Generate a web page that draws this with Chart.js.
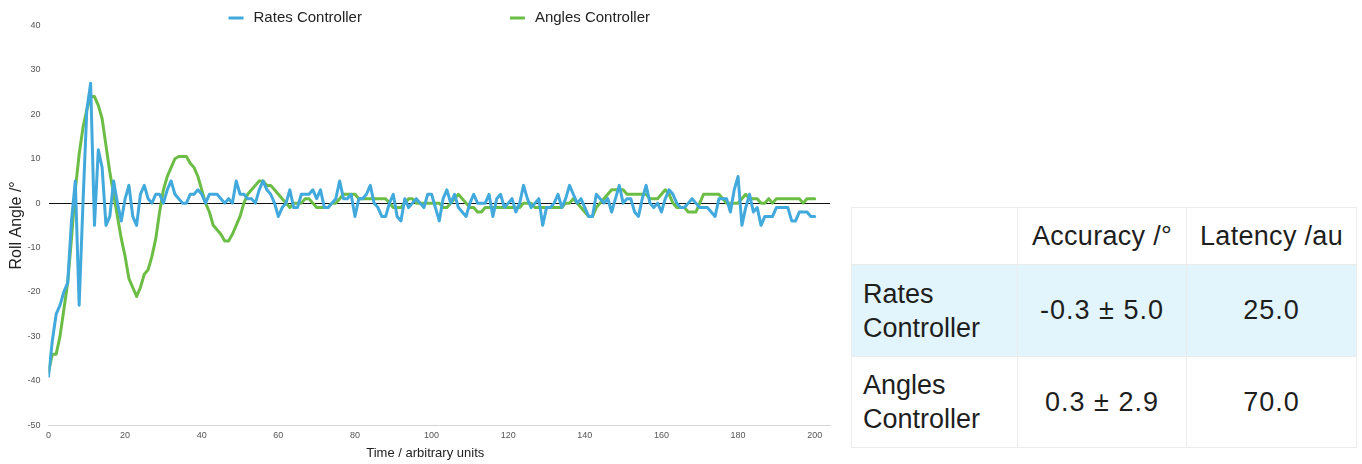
<!DOCTYPE html>
<html>
<head>
<meta charset="utf-8">
<script src="https://cdn.jsdelivr.net/npm/chart.js@4.4.1/dist/chart.umd.min.js"></script>
<style>
  html, body { margin: 0; padding: 0; background: #fff; width: 1362px; height: 464px; overflow: hidden; }
  body { font-family: "Liberation Sans", Arial, Helvetica, sans-serif; }
  #chartBox { position: absolute; left: 0; top: 0; width: 845px; height: 464px; }
  #summary {
    position: absolute; left: 851px; top: 207px;
    border-collapse: collapse; table-layout: fixed;
    font-size: 27px; color: #1e1e1e;
  }
  #summary td { border: 1px solid #ececec; padding: 0; vertical-align: middle; }
  #summary tr.head td { height: 56px; text-align: center; letter-spacing: 0.3px; }
  #summary tr.rates td { height: 91px; background: #e2f5fc; }
  #summary tr.angles td { height: 90px; }
  #summary td.name { text-align: left; padding-left: 11px; line-height: 34px; }
  #summary td.num { text-align: center; letter-spacing: 1px; }
</style>
</head>
<body>
<div id="chartBox"><canvas id="roll"></canvas></div>

<table id="summary">
  <colgroup><col style="width:166px"><col style="width:169px"><col style="width:170px"></colgroup>
  <tr class="head"><td></td><td>Accuracy /°</td><td>Latency /au</td></tr>
  <tr class="rates"><td class="name">Rates<br>Controller</td><td class="num">-0.3 ± 5.0</td><td class="num">25.0</td></tr>
  <tr class="angles"><td class="name">Angles<br>Controller</td><td class="num">0.3 ± 2.9</td><td class="num">70.0</td></tr>
</table>

<script>
// Roll angle per sample, one value per time step 0..200
const ratesController = [
  -39,-31,-25,-23,-20,-18,-4,5,-23,0,
  21,27,-5,12,8,-5,-3,5,0,-4,
  1,4,-3,-5,2,4,1,0,2,2,
  0,3,5,2,1,0,0,2,2,3,
  2,0,2,2,2,1,0,1,0,5,
  2,2,1,1,0,3,5,3,2,0,
  -3,-1,0,3,-1,-1,2,2,2,3,
  1,3,-1,-1,0,1,5,1,1,2,
  -3,1,1,2,4,0,-1,-3,-3,0,
  2,-3,-4,1,-1,0,1,0,-1,2,
  2,-1,-4,1,3,0,2,-1,-2,-3,
  0,2,0,0,0,2,-3,1,2,-1,
  0,1,-2,0,4,1,-1,0,1,-5,
  -1,-1,0,2,-1,1,4,2,0,1,
  -1,-3,-3,2,1,0,1,-2,1,4,
  0,1,1,-2,-3,1,4,0,-1,0,
  -2,1,3,2,0,-1,-1,0,1,0,
  -1,-1,-1,-2,-3,1,1,1,-2,3,
  6,-5,-1,2,-2,-1,-5,-3,-3,-3,
  -1,-1,-1,-1,-4,-4,-2,-2,-2,-3,
  -3
];

const anglesController = [
  -38,-34,-34,-30,-24,-18,-8,3,11,17,
  21,24,24,22,19,13,7,2,-3,-8,
  -12,-17,-19,-21,-19,-16,-15,-12,-8,-2,
  3,6,8,10,10.5,10.5,10.5,9,8,6,
  3,0,-2,-5,-6,-7,-8.5,-8.5,-7,-5,
  -3,0,2,3,4,5,5,4,4,3,
  2,1,0,-1,0,0,0,1,1,0,
  -1,-1,-1,-1,0,0,1,2,2,2,
  2,1,1,1,1,1,1,1,1,0,
  -1,-1,-1,0,1,1,0,0,0,0,
  0,0,0,-1,-1,0,1,2,1,0,
  -1,-1,-2,-2,-1,-1,-1,-1,-1,-1,
  -1,-1,-1,-1,0,0,0,-1,-1,-1,
  -1,-1,-1,-1,-1,0,0,1,0,-1,
  -2,-3,-3,-1,0,1,2,3,3,3,
  3,2,2,2,2,2,2,1,1,1,
  2,3,2,0,-1,-1,-1,-2,-2,-2,
  0,2,2,2,2,2,1,0,0,0,
  0,1,2,1,1,1,0,0,1,0,
  1,1,1,1,1,1,1,0,1,1,
  1
];

const seriesNames = ['Rates Controller', 'Angles Controller'];
const seriesColors = ['#41a9dc', '#6cbd45'];
const xTickValues = [0, 20, 40, 60, 80, 100, 120, 140, 160, 180, 200];
const yTickValues = [-50, -40, -30, -20, -10, 0, 10, 20, 30, 40];
const xAxisTitle = 'Time / arbitrary units';

const toPoints = values => values.map((v, i) => ({ x: i, y: v }));

const FONT = '"Liberation Sans", Arial, Helvetica, sans-serif';

// Wide-spaced legend drawn above the plot
const topLegend = {
  id: 'topLegend',
  afterDraw(chart) {
    const ctx = chart.ctx;
    const gap = 148, swatch = 15, textGap = 10, y = 18;
    ctx.save();
    ctx.font = '15px ' + FONT;
    const widths = chart.data.datasets.map(d => swatch + textGap + ctx.measureText(d.label).width);
    const total = widths.reduce((a, b) => a + b, 0) + gap * (widths.length - 1);
    const centre = (chart.chartArea.left + chart.chartArea.right) / 2;
    let x = centre - total / 2;
    chart.data.datasets.forEach((d, i) => {
      ctx.fillStyle = d.borderColor;
      ctx.fillRect(x, y - 1.5, swatch, 3);
      ctx.fillStyle = '#222';
      ctx.textBaseline = 'middle';
      ctx.textAlign = 'left';
      ctx.fillText(d.label, x + swatch + textGap, y);
      x += widths[i] + gap;
    });
    ctx.restore();
  }
};

// Horizontal axis caption, set slightly left of the plot centre
const timeCaption = {
  id: 'timeCaption',
  afterDraw(chart) {
    const ctx = chart.ctx;
    const area = chart.chartArea;
    ctx.save();
    ctx.font = '13px ' + FONT;
    ctx.fillStyle = '#222';
    ctx.textAlign = 'center';
    ctx.textBaseline = 'middle';
    ctx.fillText(xAxisTitle, (area.left + area.right) / 2 - 14, area.bottom + 28);
    ctx.restore();
  }
};

new Chart(document.getElementById('roll'), {
  type: 'line',
  data: {
    datasets: [
      { label: seriesNames[0], data: toPoints(ratesController), borderColor: seriesColors[0] },
      { label: seriesNames[1], data: toPoints(anglesController), borderColor: seriesColors[1] }
    ]
  },
  options: {
    responsive: true,
    maintainAspectRatio: false,
    animation: false,
    parsing: false,
    layout: { padding: { top: 25.5, right: 15, bottom: 18, left: 3 } },
    elements: {
      line: { borderWidth: 3, tension: 0, fill: false, borderJoinStyle: 'round', borderCapStyle: 'round' },
      point: { radius: 0, hoverRadius: 0 }
    },
    plugins: { legend: { display: false }, tooltip: { enabled: false } },
    scales: {
      x: {
        type: 'linear',
        min: 0,
        max: 204,
        afterBuildTicks: axis => { axis.ticks = xTickValues.map(v => ({ value: v })); },
        ticks: { font: { size: 9, family: FONT }, color: '#555', padding: 5, maxRotation: 0 },
        grid: { display: false, drawTicks: false },
        border: { display: true, color: '#d4d4d4', width: 1 },
        title: { display: false }
      },
      y: {
        type: 'linear',
        min: -50,
        max: 40,
        afterBuildTicks: axis => { axis.ticks = yTickValues.map(v => ({ value: v })); },
        afterFit: axis => { axis.width = 45.5; },
        ticks: { font: { size: 9, family: FONT }, color: '#555', padding: 8 },
        grid: {
          drawTicks: false,
          color: c => (c.tick && c.tick.value === 0 ? '#111' : 'rgba(0,0,0,0)'),
          lineWidth: 1
        },
        border: { display: false },
        title: { display: true, text: 'Roll Angle /°', font: { size: 16, family: FONT }, color: '#222', padding: { top: 4, bottom: 1 } }
      }
    }
  },
  plugins: [topLegend, timeCaption]
});
</script>
</body>
</html>
